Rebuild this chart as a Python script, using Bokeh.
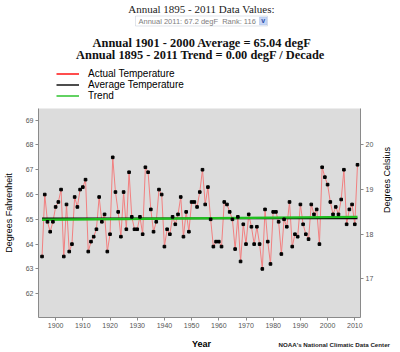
import math
from bokeh.plotting import figure
from bokeh.layouts import column
from bokeh.models import (Range1d, LinearAxis, Label, Legend, LegendItem,
                          BoxAnnotation, FixedTicker, ColumnDataSource)
from bokeh.embed import file_html
from bokeh.resources import INLINE

# ---------------- data ----------------
years = list(range(1895, 2012))
temps_f = [
    63.5, 66.0, 64.9, 64.5, 64.9, 65.5, 65.7, 66.2, 63.5, 65.6,   # 1895-1904
    63.7, 64.0, 65.9, 65.5, 66.2, 66.3, 66.6, 63.7, 64.1, 64.3,   # 1905-1914
    64.6, 65.9, 64.9, 65.2, 63.7, 64.4, 67.5, 66.1, 65.3, 64.3,   # 1915-1924
    66.1, 64.6, 66.9, 65.1, 64.6, 64.6, 65.1, 64.4, 67.1, 66.9,   # 1925-1934
    65.4, 64.5, 64.9, 66.2, 66.0, 63.9, 64.6, 64.4, 65.1, 64.8,   # 1935-1944
    65.2, 65.9, 64.3, 65.3, 64.5, 65.7, 65.7, 65.5, 66.1, 67.0,   # 1945-1954
    65.6, 66.3, 65.0, 63.9, 64.1, 64.1, 63.9, 65.7, 65.6, 65.3,   # 1955-1964
    65.0, 63.8, 65.1, 63.3, 64.8, 64.0, 65.2, 64.7, 64.0, 64.7,   # 1965-1974
    64.0, 63.0, 65.4, 64.1, 63.2, 65.3, 65.3, 64.9, 63.6, 65.0,   # 1975-1984
    64.7, 65.7, 63.9, 64.4, 64.3, 65.6, 64.8, 64.4, 64.2, 65.6,   # 1985-1994
    65.2, 65.4, 64.0, 67.1, 66.7, 66.4, 65.7, 65.2, 65.5, 65.2,   # 1995-2004
    65.8, 67.0, 64.8, 65.4, 65.6, 64.8, 67.2,                     # 2005-2011
]
average_years = [1895, 2011]
average_f = [65.04, 65.04]
trend_years = [1895, 2011]
trend_f = [64.98, 65.10]

x_ticks = [1900, 1910, 1920, 1930, 1940, 1950, 1960, 1970, 1980, 1990, 2000, 2010]
f_ticks = [62, 63, 64, 65, 66, 67, 68, 69]
c_ticks = [17, 18, 19, 20]

header1 = "Annual 1895 - 2011 Data Values:"
select_text = "Annual 2011: 67.2 degF\u00a0\u00a0Rank: 116"
header2 = "Annual 1901 - 2000 Average = 65.04 degF"
header3 = "Annual 1895 - 2011 Trend = 0.00 degF / Decade"
x_title = "Year"
credit = "NOAA's National Climatic Data Center"

W = 400
HEAD_H = 108
FOOT_H = 15
MAIN_H = 352 - HEAD_H - FOOT_H

def no_align(fig):
    if "frame_align" in fig.properties():
        fig.frame_align = False

# ---------------- header figure (titles, selector, legend) ----------------
h = figure(width=W, height=HEAD_H, output_backend="svg", toolbar_location=None,
           x_range=Range1d(0, W), y_range=Range1d(HEAD_H, 0),
           x_axis_type=None, y_axis_type=None, min_border=0,
           outline_line_color=None, background_fill_color="white",
           border_fill_color="white")
h.grid.visible = False
no_align(h)

def lab(fig, cx, cy, text, font, size, style="normal", color="black", align="center"):
    fig.add_layout(Label(x=cx, y=cy, text=text, text_align=align,
                         text_baseline="middle", text_font=font,
                         text_font_size=size, text_font_style=style,
                         text_color=color))

lab(h, 201, 8.5, header1, "Liberation Serif", "11px", color="#222222")
h.add_layout(BoxAnnotation(left=135, right=267, top=15.5, bottom=25.5,
                           fill_color="white", fill_alpha=1, line_color="#9aa8bc",
                           line_width=1))
h.add_layout(BoxAnnotation(left=259, right=266.5, top=16.5, bottom=24.5,
                           fill_color="#c6d6f6", fill_alpha=1, line_color="#8aa4dc",
                           line_width=1))
lab(h, 262.8, 20.0, "v", "Liberation Sans", "7px", style="bold", color="#2a4fa8")
lab(h, 138, 20.5, select_text, "Liberation Sans", "7.5px", color="#808080", align="left")
lab(h, 201.5, 42.5, header2, "Liberation Serif", "12.4px", style="bold", color="#111111")
lab(h, 200, 54.5, header3, "Liberation Serif", "12.4px", style="bold", color="#111111")

# legend keys: same series, hidden in this header (only their styles are shown)
leg_r = h.line(years, temps_f, line_color="red", line_width=1.4, visible=False)
leg_k = h.line(average_years, average_f, line_color="black", line_width=1.4, visible=False)
leg_g = h.line(trend_years, trend_f, line_color="#1fbf1f", line_width=1.4, visible=False)
legend = Legend(items=[LegendItem(label="Actual Temperature", renderers=[leg_r]),
                       LegendItem(label="Average Temperature", renderers=[leg_k]),
                       LegendItem(label="Trend", renderers=[leg_g])],
                location=(56, HEAD_H - 101), orientation="vertical",
                padding=0, margin=0, spacing=0, label_height=11, glyph_height=11,
                glyph_width=23, label_standoff=9, click_policy="none",
                label_text_font="Liberation Sans", label_text_font_size="10px",
                label_text_color="black", border_line_color=None,
                background_fill_alpha=0)
h.add_layout(legend, "center")

# ---------------- main figure ----------------
y_lo, y_hi = 61.04, 69.47
p = figure(width=W, height=MAIN_H, output_backend="svg", toolbar_location=None,
           x_range=Range1d(1893.7, 2012.1), y_range=Range1d(y_lo, y_hi),
           min_border_left=37, min_border_right=39, min_border_top=0,
           min_border_bottom=20, background_fill_color="#dcdcdc",
           border_fill_color="white", outline_line_color=None)
p.grid.visible = False
p.extra_y_ranges = {"c": Range1d((y_lo - 32) / 1.8, (y_hi - 32) / 1.8)}

def style_axis(ax):
    ax.axis_line_color = "#8a8a8a"
    ax.major_tick_line_color = "#8a8a8a"
    ax.minor_tick_line_color = None
    ax.major_tick_in = 0
    ax.major_tick_out = 3
    ax.major_label_text_font = "Liberation Sans"
    ax.major_label_text_font_size = "7px"
    ax.major_label_text_color = "#555555"
    ax.major_label_standoff = 2
    ax.axis_label_text_font = "Liberation Sans"
    ax.axis_label_text_font_size = "9px"
    ax.axis_label_text_font_style = "normal"
    ax.axis_label_text_color = "black"

xa = p.xaxis[0]
style_axis(xa)
xa.ticker = FixedTicker(ticks=x_ticks)

ya = p.yaxis[0]
style_axis(ya)
ya.ticker = FixedTicker(ticks=f_ticks)
ya.axis_label = "Degrees Fahrenheit"
ya.axis_label_standoff = 9

ra = LinearAxis(y_range_name="c", ticker=FixedTicker(ticks=c_ticks),
                axis_label="Degrees Celsius")
style_axis(ra)
ra.axis_label_standoff = 11
if "axis_label_orientation" in ra.properties():
    ra.axis_label_orientation = math.pi / 2
p.add_layout(ra, "right")

src = ColumnDataSource(dict(year=years, temp=temps_f))
p.line("year", "temp", source=src, line_color="#f28080", line_width=1)
p.line(average_years, average_f, line_color="black", line_width=1.6)
p.line(trend_years, trend_f, line_color="#1fbf1f", line_width=2.4)
p.scatter("year", "temp", source=src, marker="square", size=2.6,
          fill_color="black", line_color="black")

# ---------------- footer figure (x title, credit) ----------------
f = figure(width=W, height=FOOT_H, output_backend="svg", toolbar_location=None,
           x_range=Range1d(0, W), y_range=Range1d(FOOT_H, 0),
           x_axis_type=None, y_axis_type=None, min_border=0,
           outline_line_color=None, background_fill_color="white",
           border_fill_color="white")
f.grid.visible = False
no_align(f)
lab(f, 201, 343.5 - (352 - FOOT_H), x_title, "Liberation Sans", "9px", style="bold")
lab(f, 278, 344 - (352 - FOOT_H), credit, "Liberation Sans", "6.2px", style="bold",
    color="#222222", align="left")

layout = column(h, p, f, spacing=0)
open("out.html", "w").write(file_html(layout, INLINE))
